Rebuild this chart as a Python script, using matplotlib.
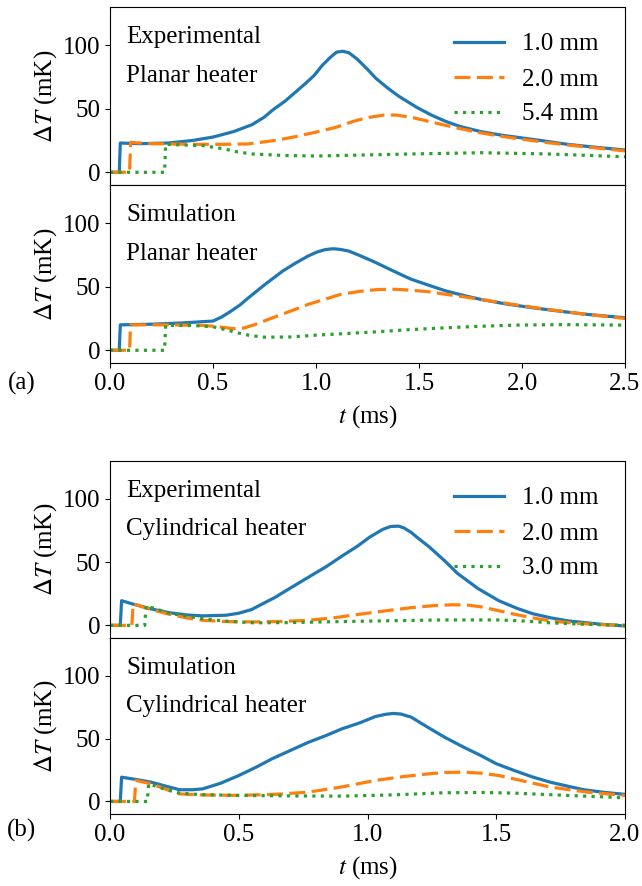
import numpy as np
import matplotlib
matplotlib.use('Agg')
import matplotlib.pyplot as plt

plt.rcParams['font.family'] = ['Liberation Serif', 'DejaVu Serif']
plt.rcParams['mathtext.fontset'] = 'stix'
plt.rcParams['font.size'] = 18

# --- (a) planar heater, experimental ---
t_pe_1 = [0, 0.045, 0.05, 0.15, 0.28, 0.4, 0.5, 0.6, 0.69, 0.75, 0.79, 0.85, 0.9, 0.95, 0.99, 1.03, 1.07, 1.1, 1.13, 1.16, 1.2, 1.25, 1.29, 1.35, 1.4, 1.45, 1.49, 1.56, 1.63, 1.7, 1.8, 1.9, 2.0, 2.1, 2.22, 2.35, 2.5]
y_pe_1 = [0, 0, 23, 22.5, 23, 25, 27.7, 32, 37.5, 43.5, 49, 56, 63, 70, 76, 84, 90.5, 94.5, 95.2, 94, 89, 81, 74, 66, 60, 55, 51, 45, 40, 36, 32, 29.2, 27, 24.8, 22, 19.8, 17.5]
t_pe_2 = [0, 0.095, 0.1, 0.2, 0.4, 0.55, 0.67, 0.8, 0.9, 1.0, 1.1, 1.18, 1.25, 1.33, 1.39, 1.47, 1.56, 1.68, 1.8, 1.9, 2.0, 2.12, 2.25, 2.38, 2.5]
y_pe_2 = [0, 0, 23.5, 22.5, 22, 22, 22.3, 25, 28, 31.6, 35.5, 40, 43, 45, 45, 43, 39.5, 35, 31, 28.3, 26, 23.4, 21, 18.8, 16.8]
t_pe_3 = [0, 0.265, 0.27, 0.35, 0.45, 0.55, 0.62, 0.69, 0.85, 1.0, 1.2, 1.46, 1.8, 2.13, 2.3, 2.5]
y_pe_3 = [0, 0, 22, 21.5, 21, 18.5, 16, 14.4, 13.2, 12.8, 13.5, 14.4, 15.4, 14.4, 13.4, 12.2]

# --- (a) planar heater, simulation ---
t_ps_1 = [0, 0.045, 0.05, 0.2, 0.35, 0.45, 0.5, 0.54, 0.58, 0.63, 0.67, 0.75, 0.84, 0.9, 0.96, 1.0, 1.04, 1.07, 1.09, 1.12, 1.16, 1.22, 1.29, 1.38, 1.46, 1.55, 1.63, 1.72, 1.8, 1.92, 2.05, 2.18, 2.3, 2.4, 2.5]
y_ps_1 = [0, 0, 20, 20.5, 21.5, 22.5, 23, 26, 30, 35.5, 41, 51.5, 62.5, 68.5, 74, 77, 79, 79.7, 79.8, 79.3, 78, 74, 69, 62, 56, 51, 46.7, 43, 40, 36.5, 33.5, 30.8, 28.5, 27, 25.6]
t_ps_2 = [0, 0.095, 0.1, 0.3, 0.45, 0.5, 0.55, 0.6, 0.65, 0.7, 0.79, 0.88, 0.96, 1.04, 1.12, 1.22, 1.3, 1.38, 1.46, 1.55, 1.63, 1.72, 1.8, 1.96, 2.13, 2.3, 2.5]
y_ps_2 = [0, 0, 20, 20, 19.5, 19, 18, 17, 17.5, 20, 25.6, 31, 36, 40, 44, 46.5, 47.8, 48, 47.3, 46, 44, 42, 40, 36, 32, 28.5, 25]
t_ps_3 = [0, 0.265, 0.27, 0.4, 0.5, 0.56, 0.62, 0.68, 0.75, 0.88, 1.0, 1.15, 1.29, 1.45, 1.63, 1.8, 1.97, 2.2, 2.5]
y_ps_3 = [0, 0, 19.5, 19.5, 18.5, 16.3, 13.7, 11.6, 10.3, 10.5, 11.9, 13.2, 14.5, 16.2, 17.7, 18.9, 19.8, 20.2, 19.8]

# --- (b) cylindrical heater, experimental ---
t_ce_1 = [0, 0.04, 0.045, 0.09, 0.16, 0.23, 0.3, 0.36, 0.45, 0.5, 0.55, 0.59, 0.64, 0.68, 0.77, 0.84, 0.9, 0.96, 1.01, 1.06, 1.09, 1.12, 1.14, 1.17, 1.19, 1.24, 1.3, 1.35, 1.43, 1.51, 1.58, 1.64, 1.71, 1.78, 1.9, 2.0]
y_ce_1 = [0, 0, 19.5, 16.8, 13, 10, 8.2, 7.5, 8, 9.6, 12.5, 16.8, 22, 27, 38, 46.5, 54.7, 62.5, 70, 76, 78.2, 78.5, 77.2, 73.5, 70, 62, 51, 41, 29, 19.5, 13.5, 9.3, 6, 3.5, 1, -0.5]
t_ce_2 = [0, 0.085, 0.09, 0.16, 0.23, 0.3, 0.36, 0.45, 0.56, 0.67, 0.77, 0.87, 0.97, 1.07, 1.17, 1.25, 1.33, 1.39, 1.44, 1.5, 1.57, 1.64, 1.71, 1.8, 1.9, 2.0]
y_ce_2 = [0, 0, 17, 12.5, 8.8, 5.8, 4, 3, 2.7, 3.1, 4, 6, 8.8, 11.5, 14, 15.5, 16.3, 16, 14.7, 12, 8.8, 6, 3.5, 1.8, 0.6, 0]
t_ce_3 = [0, 0.135, 0.14, 0.23, 0.3, 0.36, 0.45, 0.56, 0.7, 0.9, 1.1, 1.3, 1.51, 1.61, 1.71, 1.85, 2.0]
y_ce_3 = [0, 0, 15.5, 9.6, 7.2, 5.3, 3.3, 2, 2.2, 3, 3.7, 4.3, 4.3, 3.4, 2, 0.8, 0]

# --- (b) cylindrical heater, simulation ---
t_cs_1 = [0, 0.04, 0.045, 0.1, 0.16, 0.22, 0.27, 0.32, 0.36, 0.43, 0.5, 0.57, 0.63, 0.7, 0.77, 0.84, 0.9, 0.97, 1.03, 1.07, 1.1, 1.13, 1.17, 1.23, 1.3, 1.37, 1.44, 1.5, 1.57, 1.64, 1.71, 1.78, 1.84, 1.92, 2.0]
y_cs_1 = [0, 0, 19.3, 17.5, 15.3, 12, 9.3, 9.3, 10, 14.5, 20.6, 27.5, 34, 40.5, 47, 52.5, 57.7, 62.5, 67.5, 69.3, 70, 69.5, 67, 59.5, 51, 43.5, 36.5, 30, 24.6, 19.5, 15.3, 12, 9.3, 7.2, 5.6]
t_cs_2 = [0, 0.095, 0.1, 0.16, 0.22, 0.27, 0.35, 0.5, 0.65, 0.77, 0.9, 1.03, 1.14, 1.24, 1.3, 1.37, 1.44, 1.51, 1.6, 1.71, 1.85, 2.0]
y_cs_2 = [0, 0, 16.7, 14, 9.5, 6, 5.2, 4.8, 5.7, 7.4, 11.5, 16.7, 19.8, 22, 23, 23.3, 22.5, 20.6, 16.5, 11.4, 7.5, 4.8]
t_cs_3 = [0, 0.145, 0.15, 0.21, 0.27, 0.35, 0.5, 0.7, 0.9, 1.1, 1.3, 1.45, 1.57, 1.75, 2.0]
y_cs_3 = [0, 0, 14, 10, 6.6, 5.4, 4.8, 4.4, 4.2, 5.2, 6.9, 7.1, 6.6, 5, 2.9]

labels_a = ['1.0 mm', '2.0 mm', '5.4 mm']
labels_b = ['1.0 mm', '2.0 mm', '3.0 mm']

styles = [dict(color='C0', ls='-', lw=2.3),
          dict(color='C1', ls=(0, (5, 2)), lw=2.3),
          dict(color='C2', ls=':', lw=2.3)]

W, H = 642, 886
fig = plt.figure(figsize=(W / 100, H / 100), dpi=100)

def add_ax(top, bottom):
    l, r = 110 / W, 625 / W
    return fig.add_axes([l, 1 - bottom / H, r - l, (bottom - top) / H])

ax1 = add_ax(7, 185)
ax2 = add_ax(185, 363)
ax3 = add_ax(461, 638)
ax4 = add_ax(638, 814)

panels = [
    (ax1, [(t_pe_1, y_pe_1), (t_pe_2, y_pe_2), (t_pe_3, y_pe_3)], 'Experimental', 'Planar heater', labels_a),
    (ax2, [(t_ps_1, y_ps_1), (t_ps_2, y_ps_2), (t_ps_3, y_ps_3)], 'Simulation', 'Planar heater', None),
    (ax3, [(t_ce_1, y_ce_1), (t_ce_2, y_ce_2), (t_ce_3, y_ce_3)], 'Experimental', 'Cylindrical heater', labels_b),
    (ax4, [(t_cs_1, y_cs_1), (t_cs_2, y_cs_2), (t_cs_3, y_cs_3)], 'Simulation', 'Cylindrical heater', None),
]

for ax, series, line1, line2, labels in panels:
    for i, (t, y) in enumerate(series):
        lab = labels[i] if labels else None
        ax.plot(t, y, label=lab, **styles[i])
    ax.set_ylim(-10, 130)
    ax.set_yticks([0, 50, 100])
    ax.set_ylabel(r'$\Delta T$ (mK)', labelpad=3)
    ax.text(0.031, 0.83, line1, transform=ax.transAxes, va='center', ha='left')
    ax.text(0.031, 0.615, line2, transform=ax.transAxes, va='center', ha='left')
    if labels:
        ax.legend(loc='upper right', frameon=False, handlelength=2.0,
                  handletextpad=0.75, labelspacing=0.5, borderaxespad=0.64)

for ax in (ax1, ax2):
    ax.set_xlim(0, 2.5)
    ax.set_xticks(np.arange(0, 2.51, 0.5))
for ax in (ax3, ax4):
    ax.set_xlim(0, 2.0)
    ax.set_xticks(np.arange(0, 2.01, 0.5))

ax1.tick_params(labelbottom=False)
ax3.tick_params(labelbottom=False)
ax2.set_xlabel('$t$ (ms)', labelpad=6)
ax4.set_xlabel('$t$ (ms)', labelpad=6)

fig.text(22 / W, 1 - 383 / H, '(a)', ha='center', va='center')
fig.text(22 / W, 1 - 830 / H, '(b)', ha='center', va='center')

fig.savefig('out.png', dpi=100)
